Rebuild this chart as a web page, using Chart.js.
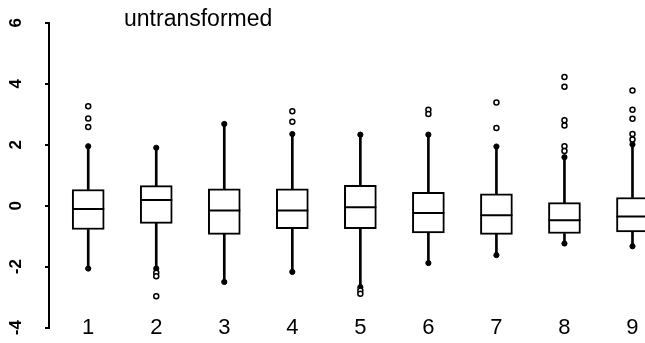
<!DOCTYPE html>
<html>
<head>
<meta charset="utf-8">
<script src="https://cdn.jsdelivr.net/npm/chart.js@4"></script>
<style>
  html, body { margin: 0; padding: 0; background: #fff; }
  #wrap { width: 645px; height: 343px; position: relative; }
</style>
</head>
<body>
<div id="wrap"><canvas id="c" width="645" height="343"></canvas></div>
<script>
// Group labels along the x axis and tick values on the y axis
const groups = ['1', '2', '3', '4', '5', '6', '7', '8', '9'];
const yTicks = [-4, -2, 0, 2, 4, 6];
const title = 'untransformed';

// Five-number summaries per group
const lowerWhisker = [-2.06, -2.06, -2.50, -2.17, -2.67, -1.88, -1.62, -1.24, -1.33];
const lowerQuartile = [-0.78, -0.58, -0.94, -0.75, -0.75, -0.89, -0.94, -0.91, -0.86];
const medians = [-0.11, 0.19, -0.16, -0.16, -0.05, -0.24, -0.31, -0.48, -0.35];
const upperQuartile = [0.53, 0.66, 0.55, 0.55, 0.67, 0.44, 0.39, 0.10, 0.27];
const upperWhisker = [1.95, 1.90, 2.68, 2.35, 2.33, 2.33, 1.94, 1.59, 2.01];

// Points beyond the whiskers, per group
const outliers = [
  [3.26, 2.86, 2.58],
  [-2.20, -2.31, -2.97],
  [],
  [3.10, 2.75],
  [-2.78, -2.89],
  [3.15, 3.01],
  [3.38, 2.55],
  [4.22, 3.90, 2.80, 2.63, 1.95, 1.79],
  [3.78, 3.15, 2.85, 2.35, 2.17]
];

const xs = groups.map((g, i) => i + 1);

const boxData = xs.map((x, i) => ({ x, y: [lowerQuartile[i], upperQuartile[i]] }));
const upperStem = xs.map((x, i) => ({ x, y: [upperQuartile[i], upperWhisker[i]] }));
const lowerStem = xs.map((x, i) => ({ x, y: [lowerWhisker[i], lowerQuartile[i]] }));
const medianPts = xs.map((x, i) => ({ x, y: medians[i] }));
const endPts = xs.flatMap((x, i) => [{ x, y: upperWhisker[i] }, { x, y: lowerWhisker[i] }]);
const outlierPts = xs.flatMap((x, i) => outliers[i].map(v => ({ x, y: v })));

// Keep the plot area fixed: no extra room reserved for edge labels
function noEdgePadding(scale) {
  scale.paddingLeft = 0;
  scale.paddingRight = 0;
  scale.paddingTop = 0;
  scale.paddingBottom = 0;
}

// Title drawn onto the canvas at the top of the plot
const titlePlugin = {
  id: 'plotTitle',
  afterDraw(chart) {
    const ctx = chart.ctx;
    ctx.save();
    ctx.font = '23px "Liberation Sans", Arial, sans-serif';
    ctx.fillStyle = '#000';
    ctx.textAlign = 'left';
    ctx.textBaseline = 'alphabetic';
    ctx.fillText(title, 124, 26);
    ctx.restore();
  }
};

new Chart(document.getElementById('c'), {
  type: 'bar',
  data: {
    datasets: [
      {
        type: 'scatter', data: medianPts, pointStyle: 'line', pointRadius: 16,
        borderColor: '#000', borderWidth: 2, order: 0
      },
      {
        type: 'scatter', data: outlierPts, pointStyle: 'circle', pointRadius: 2.5,
        borderColor: '#000', backgroundColor: '#fff', borderWidth: 1.5, order: 0
      },
      {
        type: 'scatter', data: endPts, pointStyle: 'circle', pointRadius: 2.6,
        borderColor: '#000', backgroundColor: '#000', borderWidth: 1, order: 0
      },
      {
        data: boxData, backgroundColor: '#fff', borderColor: '#000', borderWidth: 2,
        borderSkipped: false, barThickness: 32, order: 1
      },
      {
        data: upperStem, backgroundColor: '#000', borderWidth: 0, barThickness: 2, order: 2
      },
      {
        data: lowerStem, backgroundColor: '#000', borderWidth: 0, barThickness: 2, order: 2
      }
    ]
  },
  options: {
    responsive: false,
    animation: false,
    events: [],
    datasets: { bar: { grouped: false } },
    layout: { autoPadding: false, padding: { top: 22.7, right: 0, bottom: 0, left: 0 } },
    plugins: { legend: { display: false }, tooltip: { enabled: false } },
    scales: {
      x: {
        type: 'linear',
        bounds: 'data',
        offset: false,
        min: 0.4235,
        max: 9.184,
        grid: { display: false, offset: false },
        border: { display: false },
        afterBuildTicks(scale) { scale.ticks = xs.map(v => ({ value: v })); },
        afterFit(scale) { scale.height = 15.3; noEdgePadding(scale); },
        ticks: {
          autoSkip: false,
          maxRotation: 0,
          mirror: true,
          padding: -13.5,
          color: '#000',
          font: { family: '"Liberation Sans", Arial, sans-serif', size: 22 },
          callback: (v) => groups[Math.round(v) - 1]
        }
      },
      y: {
        min: yTicks[0],
        max: yTicks[yTicks.length - 1],
        afterBuildTicks(scale) { scale.ticks = yTicks.map(v => ({ value: v })); },
        afterFit(scale) { scale.width = 49; noEdgePadding(scale); },
        grid: { drawOnChartArea: false, drawTicks: true, tickLength: 4, color: '#000', lineWidth: 2 },
        border: { display: true, color: '#000', width: 2 },
        ticks: {
          autoSkip: false,
          minRotation: 90,
          maxRotation: 90,
          crossAlign: 'center',
          padding: 21,
          color: '#000',
          font: { family: '"Liberation Sans", Arial, sans-serif', size: 17, weight: 'bold' }
        }
      }
    }
  },
  plugins: [titlePlugin]
});
</script>
</body>
</html>
